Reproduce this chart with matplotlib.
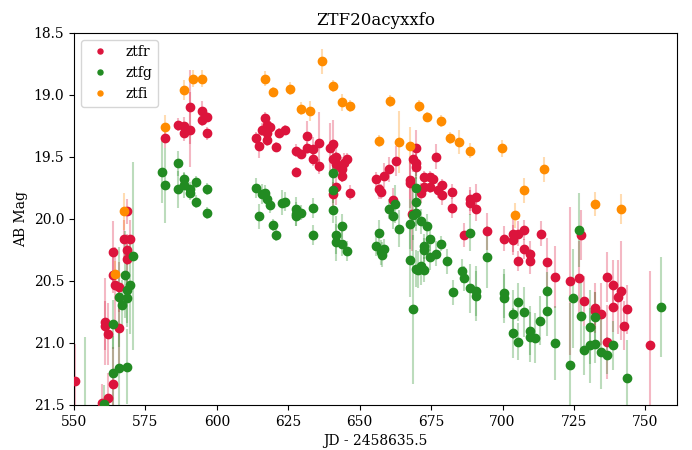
import matplotlib
matplotlib.use("Agg")
import matplotlib.pyplot as plt
import numpy as np

plt.rcParams['font.family'] = ['DejaVu Serif']

# ztfr
r_jd = [550.2, 559.7, 560.7, 560.7, 561.8, 561.8, 563.5, 563.5, 563.5, 564.5, 565.7, 565.7, 567.6, 568.6, 568.6, 568.6, 569.7,
        581.8, 586.5, 588.6, 588.6, 590.7, 590.7, 594.8, 594.8, 596.6, 596.6,
        613.7, 614.7, 615.7, 616.7, 617.7, 617.7, 617.7, 618.6, 620.7, 621.7, 623.7, 627.6, 627.6, 629.6, 631.7, 631.7,
        633.7, 633.7, 635.7, 635.7, 639.7, 640.7, 640.7, 640.7, 641.7, 641.7, 641.7, 642.6, 643.7, 643.7, 644.6, 645.6, 646.6,
        655.6, 656.6, 657.6, 658.6, 660.2, 661.8, 662.6, 667.5, 667.5, 668.4, 668.6, 669.6, 669.6, 669.6, 671.5, 672.5, 672.5,
        674.5, 674.5, 675.6, 676.6, 677.5, 678.7, 678.7, 682.4, 682.4, 686.6, 688.6, 688.7, 690.8, 690.8, 694.5,
        700.5, 703.6, 703.6, 705.4, 705.4, 707.5, 707.5, 709.5, 709.5, 713.5, 715.6, 718.5, 723.5, 726.6, 727.5, 728.6,
        732.5, 732.5, 734.5, 736.6, 736.6, 738.6, 738.6, 740.5, 741.6, 742.6, 743.6, 751.6]
r_mag = [21.31, 21.48, 20.83, 20.86, 20.93, 21.44, 20.27, 20.45, 21.33, 20.53, 20.55, 20.88, 20.16, 19.94, 20.25, 20.32, 20.16,
         19.35, 19.24, 19.25, 19.31, 19.10, 19.28, 19.13, 19.20, 19.18, 19.31,
         19.35, 19.41, 19.28, 19.19, 19.24, 19.31, 19.36, 19.26, 19.42, 19.31, 19.28, 19.45, 19.62, 19.48, 19.33, 19.43,
         19.44, 19.52, 19.39, 19.57, 19.43, 19.40, 19.52, 19.80, 19.50, 19.56, 19.74, 19.57, 19.60, 19.65, 19.55, 19.52, 19.79,
         19.68, 19.76, 19.78, 19.65, 19.60, 19.85, 19.53, 19.69, 19.71, 19.96, 19.52, 19.43, 19.55, 19.58, 19.79, 19.66, 19.74,
         19.66, 19.74, 19.68, 19.50, 19.77, 19.73, 19.81, 19.78, 19.91, 20.13, 19.84, 19.87, 19.82, 19.92, 20.10,
         20.16, 20.12, 20.17, 20.12, 20.34, 20.09, 20.24, 20.28, 20.34, 20.12, 20.35, 20.47, 20.50, 20.48, 20.13, 20.66,
         20.72, 20.74, 20.77, 20.47, 20.99, 20.53, 20.71, 20.63, 20.58, 20.86, 20.73, 21.02]
r_err = [0.3, 0.15, 0.35, 0.2, 0.25, 0.2, 0.25, 0.15, 0.3, 0.3, 0.2, 0.3, 0.15, 0.1, 0.12, 0.2, 0.15,
         0.08, 0.05, 0.07, 0.06, 0.3, 0.3, 0.08, 0.05, 0.04, 0.05,
         0.05, 0.1, 0.05, 0.05, 0.05, 0.05, 0.05, 0.05, 0.04, 0.04, 0.04, 0.05, 0.04, 0.04, 0.12, 0.05,
         0.1, 0.05, 0.25, 0.05, 0.2, 0.2, 0.1, 0.1, 0.1, 0.1, 0.15, 0.08, 0.1, 0.05, 0.08, 0.05, 0.06,
         0.06, 0.08, 0.06, 0.1, 0.1, 0.1, 0.12, 0.15, 0.2, 0.3, 0.1, 0.15, 0.1, 0.1, 0.08, 0.05, 0.05,
         0.05, 0.05, 0.05, 0.1, 0.06, 0.05, 0.08, 0.06, 0.08, 0.1, 0.1, 0.1, 0.1, 0.1, 0.15,
         0.1, 0.15, 0.12, 0.1, 0.08, 0.08, 0.08, 0.1, 0.1, 0.1, 0.2, 0.25, 0.6, 0.3, 0.2, 0.2,
         0.2, 0.15, 0.25, 0.2, 0.3, 0.2, 0.2, 0.3, 0.4, 0.2, 0.2, 0.6]

# ztfg
g_jd = [553.7, 560.4, 563.6, 563.6, 565.7, 565.7, 566.7, 567.7, 568.6, 568.6, 568.6, 569.7, 570.7,
        580.8, 581.8, 586.5, 586.5, 588.6, 588.6, 590.7, 590.7, 592.7, 592.7, 596.6, 596.6,
        613.7, 614.7, 615.7, 616.7, 617.7, 618.6, 619.6, 620.6, 622.7, 623.7, 627.6, 627.6, 627.6, 629.6, 633.7, 633.7,
        640.7, 640.7, 640.7, 641.7, 641.7, 643.7, 643.7, 645.7,
        655.6, 656.6, 657.6, 657.7, 658.5, 660.2, 661.7, 662.5, 663.7, 667.6, 667.6, 668.6, 668.7, 669.6, 669.6, 669.6,
        669.6, 670.5, 671.5, 671.5, 672.5, 672.5, 672.5, 673.6, 674.6, 674.6, 676.6, 678.5, 680.5, 682.5, 685.9, 686.6,
        688.6, 688.6, 690.6, 690.6, 694.5, 700.6, 700.6, 703.6, 703.6, 705.4, 705.4, 707.5, 709.5, 709.5, 711.5, 713.0,
        715.6, 715.6, 718.5, 723.5, 724.6, 726.6, 727.5, 728.6, 730.5, 730.5, 732.5, 732.5, 734.5, 736.6, 738.6, 743.6, 755.6]
g_mag = [21.8, 21.49, 20.85, 21.24, 20.63, 21.20, 20.69, 20.45, 20.57, 20.64, 21.19, 20.53, 20.30,
         19.62, 19.73, 19.55, 19.76, 19.68, 19.73, 19.76, 19.79, 19.70, 19.86, 19.76, 19.95,
         19.75, 19.98, 19.80, 19.79, 19.84, 19.89, 20.05, 20.13, 19.87, 19.86, 19.92, 19.96, 19.98, 19.95, 19.91, 20.13,
         19.63, 19.77, 19.93, 20.13, 20.19, 20.06, 20.20, 20.26,
         20.22, 20.11, 20.27, 20.29, 20.24, 19.92, 19.98, 19.88, 20.08, 20.04, 20.33, 20.73, 19.97, 19.75, 19.86, 19.95,
         20.40, 20.41, 20.02, 20.38, 20.22, 20.25, 20.41, 20.06, 20.16, 20.31, 20.28, 20.20, 20.34, 20.59, 20.42, 20.48,
         20.11, 20.56, 20.58, 20.62, 20.31, 20.60, 20.64, 20.77, 20.92, 20.67, 20.99, 20.75, 20.90, 20.95, 20.96, 20.82,
         20.58, 20.74, 21.00, 21.18, 20.64, 20.09, 20.78, 21.06, 20.87, 21.02, 20.79, 21.01, 21.07, 21.10, 21.02, 21.28, 20.71]
g_err = [0.85, 0.15, 0.2, 0.3, 0.4, 0.3, 0.2, 0.35, 0.3, 0.2, 0.3, 0.4, 0.76,
         0.25, 0.3, 0.1, 0.15, 0.06, 0.1, 0.06, 0.06, 0.05, 0.05, 0.05, 0.05,
         0.08, 0.1, 0.08, 0.06, 0.06, 0.06, 0.05, 0.05, 0.1, 0.08, 0.1, 0.1, 0.08, 0.06, 0.08, 0.08,
         0.15, 0.1, 0.1, 0.15, 0.15, 0.1, 0.1, 0.08,
         0.08, 0.1, 0.1, 0.1, 0.08, 0.08, 0.1, 0.15, 0.15, 0.2, 0.3, 0.6, 0.2, 0.2, 0.2, 0.15,
         0.15, 0.15, 0.1, 0.15, 0.1, 0.1, 0.1, 0.1, 0.1, 0.1, 0.1, 0.06, 0.1, 0.1, 0.1, 0.1,
         0.15, 0.2, 0.2, 0.2, 0.25, 0.2, 0.2, 0.2, 0.2, 0.15, 0.15, 0.2, 0.2, 0.2, 0.2, 0.2,
         0.15, 0.2, 0.3, 0.5, 0.4, 0.3, 0.3, 0.2, 0.3, 0.3, 0.2, 0.15, 0.3, 0.15, 0.2, 0.3, 0.4]

# ztfi
i_jd = [564.5, 567.6, 581.8, 588.6, 591.6, 594.8, 616.7, 619.6, 625.6, 629.6, 632.6, 636.7, 640.7, 643.7, 646.6,
        656.6, 660.5, 663.7, 667.6, 670.6, 673.6, 678.5, 681.6, 684.6, 688.6, 699.7, 704.5, 707.5, 714.6, 732.5, 741.6]
i_mag = [20.44, 19.94, 19.26, 18.96, 18.87, 18.87, 18.87, 18.98, 18.95, 19.11, 19.13, 18.73, 18.93, 19.06, 19.09,
         19.37, 19.05, 19.38, 19.41, 19.09, 19.18, 19.21, 19.35, 19.38, 19.45, 19.43, 19.97, 19.77, 19.60, 19.88, 19.92]
i_err = [0.1, 0.15, 0.1, 0.08, 0.07, 0.07, 0.06, 0.04, 0.05, 0.05, 0.08, 0.1, 0.05, 0.07, 0.05,
         0.05, 0.05, 0.25, 0.15, 0.05, 0.04, 0.05, 0.05, 0.1, 0.06, 0.07, 0.1, 0.1, 0.1, 0.1, 0.12]

bands = [("ztfr", r_jd, r_mag, r_err, "crimson"),
         ("ztfg", g_jd, g_mag, g_err, "forestgreen"),
         ("ztfi", i_jd, i_mag, i_err, "darkorange")]

fig = plt.figure(figsize=(6.92, 4.5), dpi=100)
ax = fig.add_axes([0.107, 0.1, 0.871, 0.827])

for name, x, y, e, c in bands:
    ax.errorbar(x, y, yerr=e, fmt='none', ecolor=c, alpha=0.3, elinewidth=1.5)
    ax.plot(x, y, 'o', color=c, ms=6, label=name, zorder=3)

ax.set_xlim(550, 761)
ax.set_ylim(21.5, 18.5)
ax.set_yticks([18.5, 19.0, 19.5, 20.0, 20.5, 21.0, 21.5])
ax.set_xticks([550, 575, 600, 625, 650, 675, 700, 725, 750])
ax.set_xlabel("JD - 2458635.5")
ax.set_ylabel("AB Mag")
ax.set_title("ZTF20acyxxfo")
ax.legend(loc="upper left", markerscale=0.6)

fig.savefig("out.png", dpi=100)
